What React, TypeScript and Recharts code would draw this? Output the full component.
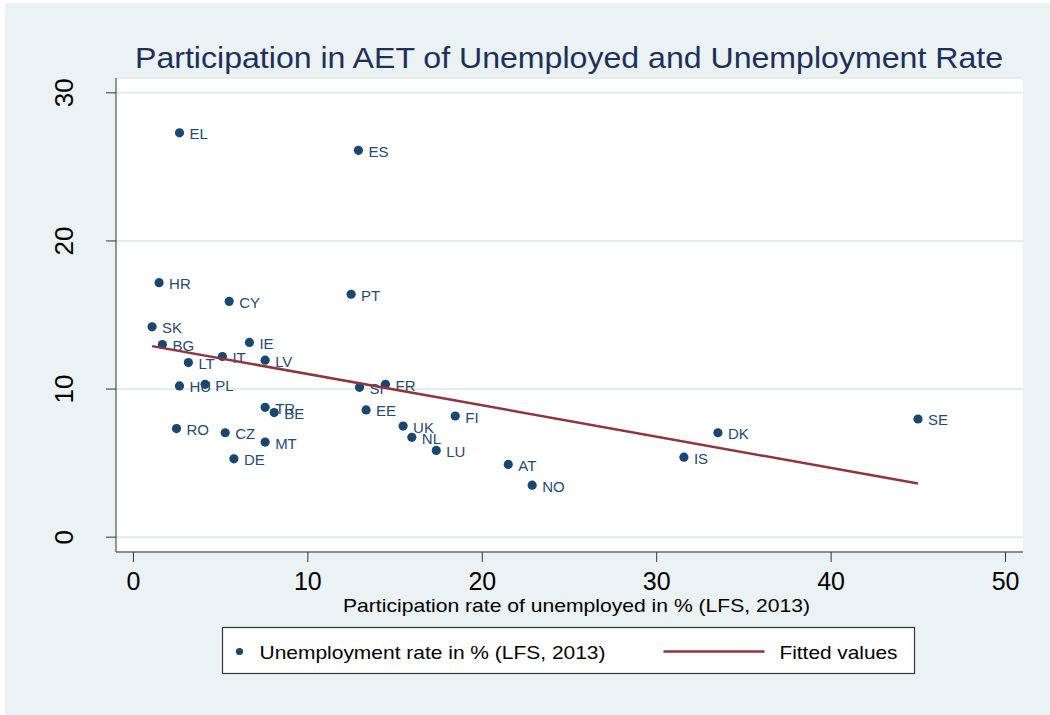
import { ScatterChart, Scatter, XAxis, YAxis, CartesianGrid } from "recharts";

// Country codes with their participation rate (x) and unemployment rate (y), LFS 2013
const countries = ["EL", "ES", "HR", "CY", "PT", "SK", "BG", "IE", "IT", "LV", "LT", "HU", "PL", "SI", "FR", "TR", "BE", "EE", "RO", "CZ", "MT", "DE", "UK", "NL", "FI", "LU", "AT", "NO", "SE", "DK", "IS"];
const participation = [2.64, 12.9, 1.47, 5.49, 12.48, 1.07, 1.66, 6.65, 5.1, 7.55, 3.15, 2.64, 4.11, 12.96, 14.45, 7.55, 8.07, 13.34, 2.47, 5.26, 7.55, 5.76, 15.46, 15.96, 18.45, 17.36, 21.49, 22.86, 44.98, 33.51, 31.56];
const unemployment = [27.3, 26.12, 17.18, 15.92, 16.4, 14.2, 13.01, 13.15, 12.2, 11.95, 11.79, 10.21, 10.32, 10.12, 10.32, 8.77, 8.41, 8.59, 7.33, 7.05, 6.42, 5.29, 7.5, 6.74, 8.18, 5.86, 4.91, 3.51, 7.98, 7.05, 5.4];

// Fitted values line: start and end of the regression line
const fitX = [1.07, 44.98];
const fitY = [12.9, 3.62];

const xTicks = [0, 10, 20, 30, 40, 50];
const yTicks = [0, 10, 20, 30];

const points = countries.map((code, i) => ({ code, x: participation[i], y: unemployment[i] }));
const fitted = fitX.map((x, i) => ({ x, y: fitY[i] }));

const FONT = "'Liberation Sans', Arial, Helvetica, sans-serif";
const NAVY = "#1A476F";
const MAROON = "#90353B";

const PointWithLabel = (props: any) => {
  const { cx, cy, payload } = props;
  return (
    <g>
      <circle cx={cx} cy={cy} r={4.6} fill={NAVY} />
      <text x={cx + 10} y={cy + 6.5} fontSize={15} fontFamily={FONT} fill="#1F4A72">
        {payload.code}
      </text>
    </g>
  );
};

// y tick labels read bottom-to-top, like Stata's default
const YTick = (props: any) => {
  const { x, y, payload } = props;
  return (
    <text
      x={x}
      y={y}
      transform={`rotate(-90 ${x} ${y})`}
      textAnchor="middle"
      fontSize={26}
      fontFamily={FONT}
      fill="#000"
    >
      {payload.value}
    </text>
  );
};

export default function App() {
  return (
    <div style={{ position: "absolute", left: 0, top: 0, width: 1050, height: 715, background: "#fff" }}>
      {/* graph region */}
      <div style={{ position: "absolute", left: 5, top: 3, width: 1045, height: 712, background: "#EAF2F3" }} />

      <div style={{ position: "absolute", left: 0, top: 0 }}>
        <ScatterChart width={1050} height={715} margin={{ top: 78, right: 27, bottom: 103, left: 0 }}>
          <CartesianGrid vertical={false} fill="#fff" fillOpacity={1} stroke="#E3ECEF" strokeWidth={2} />
          <XAxis
            type="number"
            dataKey="x"
            domain={[-1, 51]}
            ticks={xTicks}
            allowDataOverflow
            height={60}
            stroke="#333"
            tickSize={10}
            tickMargin={10}
            tick={{ fontSize: 25, fontFamily: FONT, fill: "#000" }}
          />
          <YAxis
            type="number"
            dataKey="y"
            domain={[-1, 31]}
            ticks={yTicks}
            allowDataOverflow
            width={116}
            stroke="#333"
            tickSize={10}
            tickMargin={33}
            tick={<YTick />}
          />
          <Scatter data={points} shape={<PointWithLabel />} isAnimationActive={false} />
          <Scatter
            data={fitted}
            line={{ stroke: MAROON, strokeWidth: 2.5 }}
            lineType="joint"
            shape={() => <g />}
            isAnimationActive={false}
          />
        </ScatterChart>
      </div>

      {/* title, axis title and legend */}
      <svg width={1050} height={715} style={{ position: "absolute", left: 0, top: 0, pointerEvents: "none" }}>
        <text x={135} y={68} fontSize={29} fontFamily={FONT} fill="#1E2F5C" textLength={868} lengthAdjust="spacingAndGlyphs">
          Participation in AET of Unemployed and Unemployment Rate
        </text>
        <text x={343} y={611.5} fontSize={18.5} fontFamily={FONT} fill="#000" textLength={467} lengthAdjust="spacingAndGlyphs">
          Participation rate of unemployed in % (LFS, 2013)
        </text>
        <g transform="translate(222.5 627.5)">
          <rect x={0} y={0} width={692} height={46} fill="#fff" stroke="#333" strokeWidth={1.2} />
          <circle cx={17} cy={24} r={3.6} fill={NAVY} />
          <text x={37} y={31.5} fontSize={18.5} fontFamily={FONT} fill="#000" textLength={346} lengthAdjust="spacingAndGlyphs">
            Unemployment rate in % (LFS, 2013)
          </text>
          <line x1={441} y1={24} x2={542} y2={24} stroke={MAROON} strokeWidth={2.5} />
          <text x={557} y={31.5} fontSize={18.5} fontFamily={FONT} fill="#000" textLength={118} lengthAdjust="spacingAndGlyphs">
            Fitted values
          </text>
        </g>
      </svg>
    </div>
  );
}
